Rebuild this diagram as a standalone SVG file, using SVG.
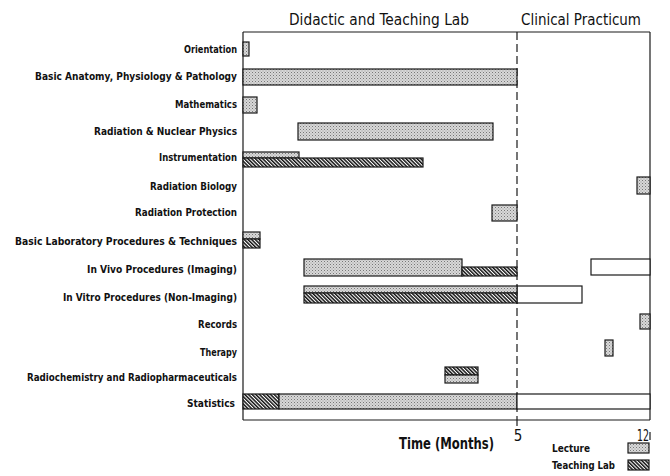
<svg xmlns="http://www.w3.org/2000/svg" width="670" height="476" viewBox="0 0 670 476">
<defs>
<pattern id="stip" width="3" height="3" patternUnits="userSpaceOnUse"><rect width="3" height="3" fill="#d8d8d8"/><rect x="0" y="0" width="1" height="1" fill="#777"/><rect x="1.5" y="1.5" width="1" height="1" fill="#999"/></pattern>
<pattern id="hatch" width="2.6" height="3" patternUnits="userSpaceOnUse" patternTransform="rotate(-45)"><rect width="2.6" height="3" fill="#ffffff"/><rect width="1.5" height="3" fill="#111"/></pattern>
<style>
.lab{font-family:"DejaVu Sans Condensed","DejaVu Sans",sans-serif;font-weight:bold;font-size:10px;fill:#111;text-anchor:end}
.hdr{font-family:"DejaVu Sans Condensed","DejaVu Sans",sans-serif;font-size:15px;fill:#111}
.ax{font-family:"DejaVu Sans Condensed","DejaVu Sans",sans-serif;font-size:15px;fill:#111}
.lg{font-family:"DejaVu Sans Condensed","DejaVu Sans",sans-serif;font-weight:bold;font-size:10px;fill:#111}
.lec{fill:url(#stip);stroke:#1a1a1a;stroke-width:1.2}
.tl{fill:url(#hatch);stroke:#1a1a1a;stroke-width:1.2}
.emp{fill:#fff;stroke:#1a1a1a;stroke-width:1.2}
.ln{stroke:#1a1a1a;stroke-width:1.2;fill:none}
</style>
</defs>
<rect width="670" height="476" fill="#fff"/>
<text class="hdr" x="289" y="25" textLength="180" lengthAdjust="spacingAndGlyphs">Didactic and Teaching Lab</text>
<text class="hdr" x="521" y="25" textLength="120" lengthAdjust="spacingAndGlyphs">Clinical Practicum</text>

<g id="connectors">
<line class="ln" x1="243" y1="32" x2="650" y2="32"/>
<line class="ln" x1="243" y1="32" x2="243" y2="420"/>
<line class="ln" x1="650" y1="32" x2="650" y2="420"/>
<line class="ln" x1="243" y1="420" x2="650" y2="420"/>
<line class="ln" x1="517" y1="32" x2="517" y2="420" stroke-dasharray="8,4"/>
<line class="ln" x1="517" y1="420" x2="517" y2="426"/>
<line class="ln" x1="650" y1="432" x2="650" y2="440"/>
</g>

<g id="orientation"><text class="lab" x="237" y="53" textLength="53" lengthAdjust="spacingAndGlyphs">Orientation</text><rect class="lec" x="243" y="42" width="6" height="14"/></g>
<g id="anatomy"><text class="lab" x="237" y="80" textLength="202" lengthAdjust="spacingAndGlyphs">Basic Anatomy, Physiology &amp; Pathology</text><rect class="lec" x="243" y="69" width="274" height="16"/></g>
<g id="mathematics"><text class="lab" x="237" y="108" textLength="62" lengthAdjust="spacingAndGlyphs">Mathematics</text><rect class="lec" x="243" y="97" width="14" height="16"/></g>
<g id="physics"><text class="lab" x="237" y="135" textLength="143" lengthAdjust="spacingAndGlyphs">Radiation &amp; Nuclear Physics</text><rect class="lec" x="298" y="123" width="195" height="17"/></g>
<g id="instrumentation"><text class="lab" x="237" y="161" textLength="78" lengthAdjust="spacingAndGlyphs">Instrumentation</text><rect class="lec" x="243" y="152" width="56" height="6"/><rect class="tl" x="243" y="158" width="180" height="9"/></g>
<g id="radiobiology"><text class="lab" x="237" y="190" textLength="87" lengthAdjust="spacingAndGlyphs">Radiation Biology</text><rect class="lec" x="637" y="177" width="13" height="17"/></g>
<g id="protection"><text class="lab" x="237" y="216" textLength="102" lengthAdjust="spacingAndGlyphs">Radiation Protection</text><rect class="lec" x="492" y="205" width="25" height="16"/></g>
<g id="basiclab"><text class="lab" x="237" y="245" textLength="222" lengthAdjust="spacingAndGlyphs">Basic Laboratory  Procedures &amp; Techniques</text><rect class="lec" x="243" y="232" width="17" height="7"/><rect class="tl" x="243" y="239" width="17" height="9"/></g>
<g id="invivo"><text class="lab" x="237" y="273" textLength="150" lengthAdjust="spacingAndGlyphs">In Vivo Procedures (Imaging)</text><rect class="lec" x="304" y="259" width="158" height="17"/><rect class="tl" x="462" y="267" width="55" height="9"/><rect class="emp" x="591" y="259" width="59" height="16"/></g>
<g id="invitro"><text class="lab" x="237" y="301" textLength="174" lengthAdjust="spacingAndGlyphs">In Vitro Procedures (Non-Imaging)</text><rect class="emp" x="517" y="286" width="65" height="17"/><rect class="lec" x="304" y="286" width="213" height="7"/><rect class="tl" x="304" y="293" width="213" height="10"/></g>
<g id="records"><text class="lab" x="237" y="328" textLength="39" lengthAdjust="spacingAndGlyphs">Records</text><rect class="lec" x="640" y="314" width="10" height="15"/></g>
<g id="therapy"><text class="lab" x="237" y="356" textLength="37" lengthAdjust="spacingAndGlyphs">Therapy</text><rect class="lec" x="605" y="340" width="8" height="16"/></g>
<g id="radiochem"><text class="lab" x="237" y="381" textLength="210" lengthAdjust="spacingAndGlyphs">Radiochemistry and Radiopharmaceuticals</text><rect class="tl" x="445" y="367" width="33" height="8"/><rect class="lec" x="445" y="375" width="33" height="8"/></g>
<g id="statistics"><text class="lab" x="235" y="407" textLength="48" lengthAdjust="spacingAndGlyphs">Statistics</text><rect class="tl" x="243" y="394" width="36" height="15"/><rect class="lec" x="279" y="394" width="238" height="15"/><rect class="emp" x="517" y="394" width="133" height="15"/></g>

<text class="ax" x="518" y="441" text-anchor="middle">5</text>
<text class="ax" x="637" y="441" textLength="12" lengthAdjust="spacingAndGlyphs">12</text>
<text class="ax" x="399" y="449" textLength="95" lengthAdjust="spacingAndGlyphs" font-weight="bold">Time (Months)</text>

<g id="legend">
<text class="lg" x="552" y="452" textLength="38" lengthAdjust="spacingAndGlyphs">Lecture</text>
<rect class="lec" x="628" y="443" width="21" height="10"/>
<text class="lg" x="552" y="469" textLength="63" lengthAdjust="spacingAndGlyphs">Teaching Lab</text>
<rect class="tl" x="628" y="460" width="21" height="10"/>
</g>
</svg>
